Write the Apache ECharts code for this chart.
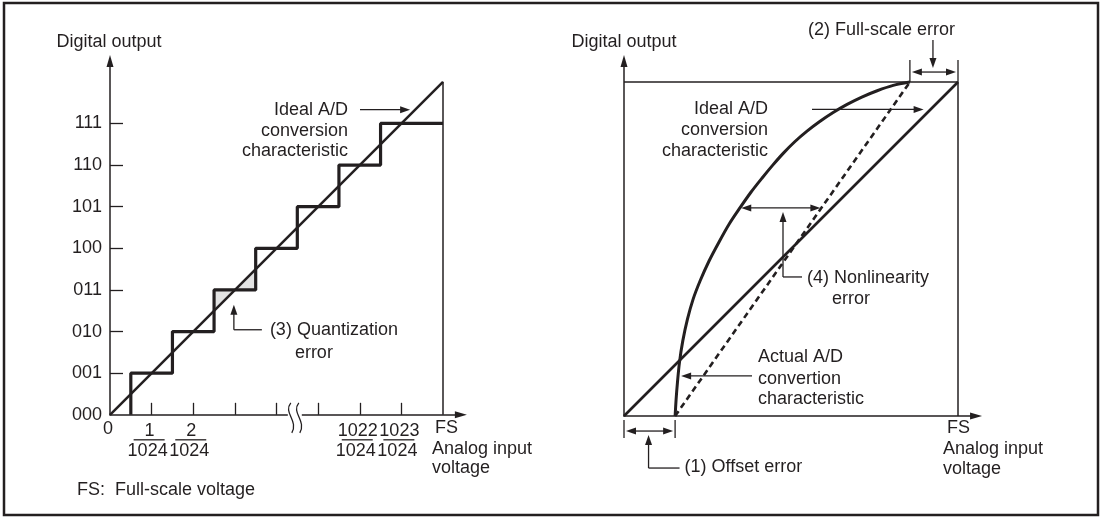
<!DOCTYPE html>
<html>
<head>
<meta charset="utf-8">
<script src="https://cdn.jsdelivr.net/npm/echarts@6/dist/echarts.min.js"></script>
<style>
html,body{margin:0;padding:0;background:#fff;}
#c{width:1103px;height:517px;}
</style>
</head>
<body>
<div id="c"></div>
<script>
// ---------- data (left chart: ideal quantization) ----------
const levelLabels = ['000', '001', '010', '011', '100', '101', '110', '111'];
const levelValues = [0, 1, 2, 3, 4, 5, 6, 7];
const xTickValues = [1, 2, 3, 4, 5, 6, 7];
const stairX = [0.5, 0.5, 1.5, 1.5, 2.5, 2.5, 3.5, 3.5, 4.5, 4.5, 5.5, 5.5, 6.5, 6.5, 8];
const stairY = [0, 1, 1, 2, 2, 3, 3, 4, 4, 5, 5, 6, 6, 7, 7];
const idealLeftX = [0, 8];
const idealLeftY = [0, 8];
const fsLeftX = [8, 8];
const fsLeftY = [0, 8];
const quantTriA = [[2.5, 2.5], [2.5, 3], [3, 3]];
const quantTriB = [[3, 3], [3.5, 3], [3.5, 3.5]];
const fractionAt = [1, 2, 6, 7];
const fractionNum = ['1', '2', '1022', '1023'];
const fractionDen = ['1024', '1024', '1024', '1024'];
const breakAt = 4.44;

// ---------- data (right chart: errors) ----------
const idealRightX = [0, 1];
const idealRightY = [0, 1];
const boxTopX = [0, 1];
const boxTopY = [1, 1];
const boxRightX = [1, 1];
const boxRightY = [0, 1];
const dashedX = [0.153, 0.856];
const dashedY = [0, 1];
const actualX = [0.153, 0.156, 0.160, 0.166, 0.176, 0.190, 0.207, 0.228, 0.255, 0.285, 0.315, 0.347, 0.380, 0.413, 0.446, 0.478, 0.512, 0.548, 0.585, 0.625, 0.668, 0.712, 0.758, 0.806, 0.856];
const actualY = [0, 0.05, 0.10, 0.160, 0.225, 0.290, 0.350, 0.405, 0.465, 0.522, 0.575, 0.623, 0.670, 0.712, 0.752, 0.788, 0.822, 0.853, 0.881, 0.908, 0.933, 0.955, 0.974, 0.990, 1.0];
const nonlinY = 0.623;     // level of the nonlinearity arrow
const idealArrowY = 0.918; // level of the "Ideal" arrow on the right

const zip = (xs, ys) => xs.map((x, i) => [x, ys[i]]);

const INK = '#231f20';
const FS_PX = 18;
const FONT = FS_PX + 'px "Liberation Sans", Arial, sans-serif';

const chart = echarts.init(document.getElementById('c'), null, {renderer: 'canvas'});

function axisBase(extra) {
  return Object.assign({
    type: 'value',
    splitLine: {show: false},
    axisLine: {show: true, lineStyle: {color: INK, width: 1.5}, symbol: ['none', 'triangle'], symbolSize: [7, 12]},
    axisTick: {show: false},
    axisLabel: {show: false}
  }, extra);
}

function line(data, xi, width, type) {
  return {
    type: 'line', data: data, xAxisIndex: xi, yAxisIndex: xi,
    symbol: 'none', silent: true, animation: false,
    lineStyle: {color: INK, width: width, type: type || 'solid', cap: 'butt'},
    z: 3
  };
}

const option = {
  animation: false,
  backgroundColor: '#fff',
  grid: [
    {left: 110, top: 61, width: 8.43 * 41.625, height: 8.5 * 41.625, containLabel: false},
    {left: 624, top: 61, width: 1.054 * 334, height: 1.063 * 334, containLabel: false}
  ],
  xAxis: [
    axisBase({gridIndex: 0, min: 0, max: 8.43,
      axisTick: {show: true, inside: true, length: 12, customValues: xTickValues, lineStyle: {color: INK, width: 1.3}},
      axisLabel: {show: true, customValues: [0], formatter: () => '0', margin: 5, color: INK, fontSize: FS_PX, fontFamily: 'Liberation Sans', align: 'right', padding: [0, -3, 0, 0]}
    }),
    axisBase({gridIndex: 1, min: 0, max: 1.054})
  ],
  yAxis: [
    axisBase({gridIndex: 0, min: 0, max: 8.5,
      axisTick: {show: true, inside: true, length: 13, customValues: levelValues.slice(1), lineStyle: {color: INK, width: 1.3}},
      axisLabel: {show: true, customValues: levelValues, formatter: v => levelLabels[Math.round(v)], margin: 8, color: INK, fontSize: FS_PX, fontFamily: 'Liberation Sans'}
    }),
    axisBase({gridIndex: 1, min: 0, max: 1.063})
  ],
  series: [
    {
      type: 'custom', xAxisIndex: 0, yAxisIndex: 0, silent: true, z: 1,
      data: [[0], [1]],
      renderItem: function (params, api) {
        const tri = api.value(0) === 0 ? quantTriA : quantTriB;
        return {type: 'polygon', shape: {points: tri.map(p => api.coord(p))}, style: {fill: '#e3e3e3', stroke: null}};
      }
    },
    line(zip(idealLeftX, idealLeftY), 0, 2.4),
    line(zip(stairX, stairY), 0, 3.2),
    line(zip(fsLeftX, fsLeftY), 0, 1.5),
    line(zip(boxTopX, boxTopY), 1, 1.5),
    line(zip(boxRightX, boxRightY), 1, 1.5),
    line(zip(idealRightX, idealRightY), 1, 2.6),
    line(zip(dashedX, dashedY), 1, 2.6, [6, 4]),
    Object.assign(line(zip(actualX, actualY), 1, 3), {smooth: 0.3})
  ]
};
chart.setOption(option);

const L = p => chart.convertToPixel({gridIndex: 0}, p);
const R = p => chart.convertToPixel({gridIndex: 1}, p);

function txt(s, x, y, align) {
  return {type: 'text', x: x, y: y, silent: true, z: 10,
    style: {text: s, font: FONT, fill: INK, align: align || 'left', verticalAlign: 'middle'}};
}
function seg(x1, y1, x2, y2, w) {
  return {type: 'line', silent: true, z: 10, shape: {x1: x1, y1: y1, x2: x2, y2: y2}, style: {stroke: INK, lineWidth: w || 1.3}};
}
function head(x1, y1, x2, y2) { // arrow head at (x2,y2) pointing from (x1,y1)
  const a = Math.atan2(y2 - y1, x2 - x1), len = 10, hw = 3.5;
  const bx = x2 - len * Math.cos(a), by = y2 - len * Math.sin(a);
  const nx = -Math.sin(a) * hw, ny = Math.cos(a) * hw;
  return {type: 'polygon', silent: true, z: 10, shape: {points: [[x2, y2], [bx + nx, by + ny], [bx - nx, by - ny]]}, style: {fill: INK}};
}
function arrow(x1, y1, x2, y2) {
  const a = Math.atan2(y2 - y1, x2 - x1);
  return [seg(x1, y1, x2 - 8 * Math.cos(a), y2 - 8 * Math.sin(a)), head(x1, y1, x2, y2)];
}
function darrow(x1, y1, x2, y2) {
  const a = Math.atan2(y2 - y1, x2 - x1);
  return [seg(x1 + 8 * Math.cos(a), y1 + 8 * Math.sin(a), x2 - 8 * Math.cos(a), y2 - 8 * Math.sin(a)), head(x1, y1, x2, y2), head(x2, y2, x1, y1)];
}

const g = [];
// outer frame
g.push({type: 'rect', silent: true, z: 10, shape: {x: 4, y: 3, width: 1094, height: 512}, style: {fill: null, stroke: INK, lineWidth: 2.5}});

// ----- left chart annotations -----
const l0 = L([0, 0]);
g.push(txt('Digital output', l0[0] - 1, 42, 'center'));
fractionAt.forEach((v, i) => {
  const p = L([v, 0]);
  const cx = p[0] - 4;
  g.push(txt(fractionNum[i], cx + 2, p[1] + 16, 'center'));
  g.push(seg(cx - 14, p[1] + 25, cx + 17, p[1] + 25, 1.3));
  g.push(txt(fractionDen[i], cx, p[1] + 36, 'center'));
});
const fsL = L([8, 0]);
g.push(txt('FS', fsL[0] - 8, fsL[1] + 13, 'left'));
g.push(txt('Analog input', fsL[0] - 11, fsL[1] + 34, 'left'));
g.push(txt('voltage', fsL[0] - 11, fsL[1] + 53, 'left'));
g.push(txt('FS:  Full-scale voltage', 77, 490, 'left'));

// axis break
const bk = L([breakAt, 0]);
g.push({type: 'rect', silent: true, z: 9, shape: {x: bk[0] - 7, y: bk[1] - 3, width: 14, height: 6}, style: {fill: '#fff'}});
[-4, 4].forEach(dx => {
  const x = bk[0] + dx;
  g.push({type: 'bezierCurve', silent: true, z: 10,
    shape: {x1: x, y1: bk[1] - 12, cpx1: x - 8, cpy1: bk[1] - 2, cpx2: x + 8, cpy2: bk[1] + 6, x2: x + 1, y2: bk[1] + 18},
    style: {stroke: INK, lineWidth: 1.3, fill: null}});
});

// ideal label (left)
const idl = L([7.33, 7.33]);
g.push(txt('Ideal A/D', 348, idl[1], 'right'));
g.push(txt('conversion', 348, idl[1] + 21, 'right'));
g.push(txt('characteristic', 348, idl[1] + 41, 'right'));
g.push(...arrow(360, idl[1], idl[0] - 5, idl[1]));

// quantization error
const q = L([3, 2.62]);
g.push(...arrow(q[0] - 1, q[1] + 24, q[0] - 1, q[1] - 1));
g.push(seg(q[0] - 1, q[1] + 24, q[0] + 27, q[1] + 24));
g.push(txt('(3) Quantization', q[0] + 35, q[1] + 24, 'left'));
g.push(txt('error', q[0] + 60, q[1] + 47, 'left'));

// ----- right chart annotations -----
const r0 = R([0, 0]);
g.push(txt('Digital output', r0[0], 42, 'center'));
const r1 = R([1, 0]);
g.push(txt('FS', r1[0] - 11, r1[1] + 12, 'left'));
g.push(txt('Analog input', r1[0] - 15, r1[1] + 33, 'left'));
g.push(txt('voltage', r1[0] - 15, r1[1] + 53, 'left'));

// full-scale error bracket
const fe = R([dashedX[1], 1]);
const fr = R([1, 1]);
g.push(seg(fe[0], fe[1] - 22, fe[0], fe[1]));
g.push(seg(fr[0], fr[1] - 22, fr[0], fr[1]));
g.push(...darrow(fe[0] + 2, fe[1] - 10, fr[0] - 2, fr[1] - 10));
const fm = (fe[0] + fr[0]) / 2 - 1;
g.push(...arrow(fm, fe[1] - 42, fm, fe[1] - 14));
g.push(txt('(2) Full-scale error', 808, 30, 'left'));

// ideal label (right)
const ir = R([idealArrowY, idealArrowY]);
g.push(txt('Ideal A/D', 768, ir[1], 'right'));
g.push(txt('conversion', 768, ir[1] + 21, 'right'));
g.push(txt('characteristic', 768, ir[1] + 42, 'right'));
g.push(...arrow(812, ir[1], ir[0] - 7, ir[1]));

// nonlinearity error
const nA = R([0.348, nonlinY]);
const nB = R([dashedX[0] + (dashedX[1] - dashedX[0]) * nonlinY, nonlinY]);
g.push(...darrow(nA[0] + 1, nA[1], nB[0] - 1, nB[1]));
const nx = 783;
g.push(...arrow(nx, nA[1] + 69, nx, nA[1] + 4));
g.push(seg(nx, nA[1] + 69, nx + 19, nA[1] + 69));
g.push(txt('(4) Nonlinearity', nx + 24, nA[1] + 70, 'left'));
g.push(txt('error', nx + 49, nA[1] + 91, 'left'));

// actual characteristic label
const ac = R([0.165, 0.12]);
g.push(txt('Actual A/D', 758, 357, 'left'));
g.push(txt('convertion', 758, 379, 'left'));
g.push(txt('characteristic', 758, 399, 'left'));
g.push(...arrow(752, ac[1], ac[0] + 2, ac[1]));

// offset error bracket
const oe = R([dashedX[0], 0]);
g.push(seg(r0[0], r0[1] + 4, r0[0], r0[1] + 22));
g.push(seg(oe[0], oe[1] + 4, oe[0], oe[1] + 22));
g.push(...darrow(r0[0] + 2, r0[1] + 15, oe[0] - 2, oe[1] + 15));
const om = (r0[0] + oe[0]) / 2 - 1;
g.push(...arrow(om, r0[1] + 52, om, r0[1] + 19));
g.push(seg(om, r0[1] + 52, om + 31, r0[1] + 52));
g.push(txt('(1) Offset error', om + 36, r0[1] + 51, 'left'));

chart.setOption({graphic: {elements: g}});
</script>
</body>
</html>
